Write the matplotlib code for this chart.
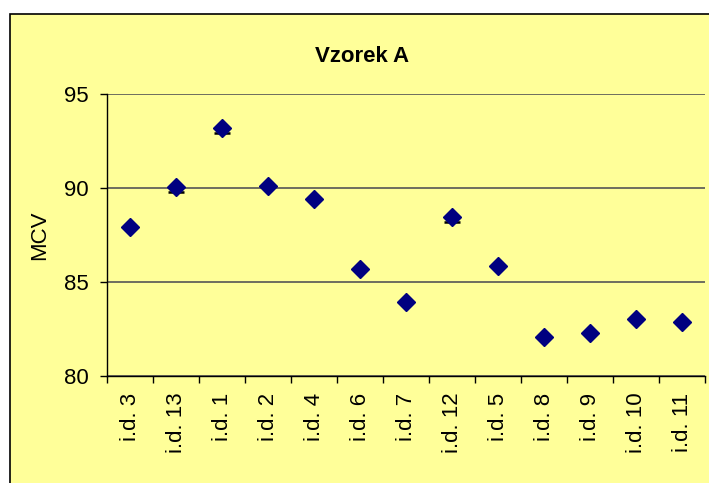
import matplotlib.pyplot as plt
from matplotlib.patches import Rectangle

labels = ["i.d. 3", "i.d. 13", "i.d. 1", "i.d. 2", "i.d. 4", "i.d. 6", "i.d. 7",
          "i.d. 12", "i.d. 5", "i.d. 8", "i.d. 9", "i.d. 10", "i.d. 11"]
mcv = [87.94, 90.07, 93.21, 90.12, 89.43, 85.70, 83.95,
       88.46, 85.85, 82.09, 82.30, 83.05, 82.89]
err_low = [0.0, 0.3, 0.3, 0.0, 0.0, 0.0, 0.0,
           0.25, 0.0, 0.0, 0.0, 0.0, 0.0]

plt.rcParams['font.family'] = ['Liberation Sans', 'DejaVu Sans']
bg = "#FFFF99"

fig = plt.figure(figsize=(7.09, 4.83), dpi=100)
fig.patch.set_facecolor("white")
fig.patches.append(Rectangle((10 / 709, -0.1), 1.0, 1.1 - 14 / 483,
                             transform=fig.transFigure, facecolor=bg,
                             edgecolor="black", linewidth=1.2, zorder=-5))

ax = fig.add_axes([107 / 709, 1 - 376 / 483, (705 - 107) / 709, (376 - 94) / 483])
ax.set_facecolor(bg)

x = list(range(len(labels)))
# lower error caps only, for the points that have one
idx = [i for i in x if err_low[i] > 0]
ax.plot(idx, [mcv[i] - err_low[i] for i in idx], linestyle="none",
        marker="_", markersize=11, markeredgewidth=1.8, color="black", zorder=2)
ax.plot(x, mcv, linestyle="none", marker="D", markersize=9,
        color="#000080", markeredgecolor="#000080", zorder=3)

ax.set_xlim(-0.5, len(labels) - 0.5)
ax.set_ylim(80, 95)
ax.set_yticks([80, 85, 90, 95])
ax.yaxis.grid(True, color="#555555", linewidth=1.2)
ax.set_axisbelow(True)

ax.set_xticks(x)
ax.set_xticklabels(labels, rotation=90, fontsize=16)
ax.set_xticks([i - 0.5 for i in range(len(labels) + 1)], minor=True)
ax.tick_params(axis="x", which="major", length=0, pad=12)
ax.tick_params(axis="x", which="minor", length=5, width=1, direction="out")
ax.tick_params(axis="y", length=5, width=1, pad=8, labelsize=16)

for s in ["top", "right"]:
    ax.spines[s].set_visible(False)
for s in ["left", "bottom"]:
    ax.spines[s].set_color("black")
    ax.spines[s].set_linewidth(1)

ax.set_ylabel("MCV", fontsize=16, labelpad=10)
fig.text(362 / 709, 1 - 56 / 483, "Vzorek A", ha="center", va="center",
         fontsize=16, fontweight="bold")

plt.savefig("out.png", dpi=100)
